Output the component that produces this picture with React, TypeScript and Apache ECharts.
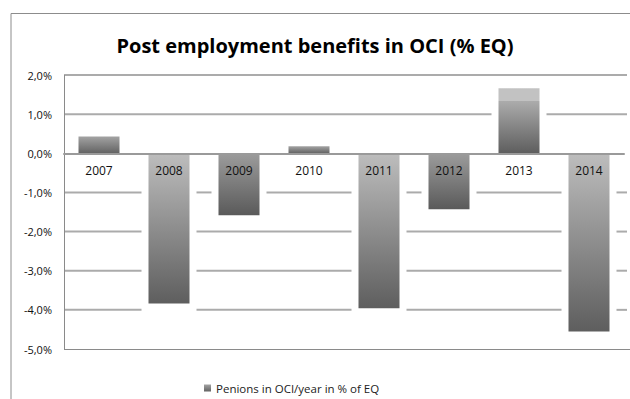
import React, { useEffect, useRef } from "react";
import * as echarts from "echarts";

const categories = ["2007", "2008", "2009", "2010", "2011", "2012", "2013", "2014"];
const values = [0.43, -3.84, -1.58, 0.18, -3.96, -1.43, 1.66, -4.55];
const gridTicks = [2, 1, -1, -2, -3, -4];
const seriesName = "Penions in OCI/year in % of EQ";
const titleText = "Post employment benefits in OCI (% EQ)";

const grad = (stops: [number, string][]) =>
  new echarts.graphic.LinearGradient(
    0,
    0,
    0,
    1,
    stops.map(([offset, color]) => ({ offset, color }))
  );

const BAR_W = 41;
const GAP = 7;

export default function App() {
  const ref = useRef<HTMLDivElement>(null);
  useEffect(() => {
    const chart = echarts.init(ref.current!, null, { renderer: "svg" });
    const barColors = values.map((v) => {
      const mag = Math.abs(v);
      if (mag > 3) return grad([[0, "#bdbdbd"], [1, "#5e5e5e"]]);
      if (mag > 1.5 && v > 0)
        return grad([[0, "#c2c2c2"], [0.19, "#c2c2c2"], [0.2, "#ababab"], [1, "#5e5e5e"]]);
      if (mag > 1) return grad([[0, "#9c9c9c"], [1, "#5a5a5a"]]);
      return grad([[0, "#a3a3a3"], [1, "#636363"]]);
    });
    const frame = [
      {
        type: "polyline",
        shape: { points: [[11, 399], [11, 13.5], [630, 13.5]] },
        style: { stroke: "#8c8c8c", lineWidth: 1, fill: "none" },
        silent: true,
        z: 0,
      },
    ];
    chart.setOption({
      animation: false,
      title: {
        text: titleText,
        left: "center",
        top: 30,
        textStyle: { fontFamily: "Open Sans", fontWeight: "bold", fontSize: 20, color: "#000" },
      },
      legend: {
        data: [{ name: seriesName, icon: "rect" }],
        left: 199,
        top: 377,
        itemWidth: 7,
        itemHeight: 7,
        itemGap: 5,
        textStyle: { fontFamily: "Open Sans", fontSize: 11.5, color: "#222" },
      },
      grid: { left: 64, right: 6, top: 75, bottom: 50 },
      xAxis: [
        {
          type: "category",
          data: categories,
          z: 5,
          axisLine: { onZero: true, lineStyle: { color: "#9a9a9a", width: 2 } },
          axisTick: { show: false },
          axisLabel: { show: false },
          splitLine: { show: false },
        },
        {
          type: "category",
          data: categories,
          position: "bottom",
          offset: -196,
          z: 6,
          axisLine: { show: false, onZero: false },
          axisTick: { show: false },
          axisLabel: { margin: 11, fontFamily: "Open Sans", fontSize: 12, color: "#111" },
          splitLine: { show: false },
        },
      ],
      yAxis: {
        type: "value",
        min: -5,
        max: 2,
        interval: 1,
        axisLabel: {
          margin: 12,
          fontFamily: "Open Sans",
          fontSize: 11,
          color: "#111",
          formatter: (v: number) => v.toFixed(1).replace(".", ",") + "%",
        },
        splitLine: { show: false },
      },
      graphic: frame,
      series: [
        {
          name: seriesName,
          type: "bar",
          barWidth: BAR_W,
          data: values.map((v, i) => ({ value: v, itemStyle: { color: barColors[i] } })),
          itemStyle: { color: barColors[0] },
          z: 2,
        },
      ],
    });

    // Gridlines broken around bars, positioned through the chart's own scales
    const px = (v: number) => chart.convertToPixel({ yAxisIndex: 0 }, v) as number;
    const cx = (c: string) => chart.convertToPixel({ xAxisIndex: 0 }, c) as number;
    const y0 = px(0);
    const left = px(0) !== undefined ? (chart.convertToPixel({ xAxisIndex: 0 }, categories[0]) as number) : 0;
    const xStart = 64;
    const xEnd = 627;
    const lines: any[] = [];
    gridTicks.forEach((t) => {
      const yt = px(t);
      const blocks: [number, number][] = [];
      values.forEach((v, i) => {
        const yv = px(v);
        const lo = Math.min(y0, yv) - GAP;
        const hi = Math.max(y0, yv) + GAP;
        if (yt >= lo && yt <= hi) {
          const c = cx(categories[i]);
          blocks.push([c - BAR_W / 2 - GAP, c + BAR_W / 2 + GAP]);
        }
      });
      let cur = xStart;
      blocks.forEach(([a, b]) => {
        if (a > cur) lines.push([cur, a]);
        cur = Math.max(cur, b);
      });
      if (cur < xEnd) lines.push([cur, xEnd]);
      lines.forEach((seg) => {
        if (!(seg as any).y) (seg as any).y = yt;
      });
    });
    void left;
    const gridGraphics = lines.map((seg: any) => ({
      type: "line",
      shape: { x1: seg[0], y1: seg.y, x2: seg[1], y2: seg.y },
      style: { stroke: "#ababab", lineWidth: 2 },
      silent: true,
      z: 0,
    }));
    const bottomY = Math.round(px(-5)) + 0.5;
    const topY = px(2);
    const axisGraphics = [
      {
        type: "line",
        shape: { x1: xStart, y1: bottomY, x2: 630, y2: bottomY },
        style: { stroke: "#8a8a8a", lineWidth: 1 },
        silent: true,
        z: 3,
      },
      {
        type: "line",
        shape: { x1: xStart + 0.5, y1: topY, x2: xStart + 0.5, y2: bottomY },
        style: { stroke: "#8a8a8a", lineWidth: 1 },
        silent: true,
        z: 3,
      },
    ];
    chart.setOption({ graphic: [...frame, ...axisGraphics, ...gridGraphics] });
    return () => chart.dispose();
  }, []);
  return (
    <div
      ref={ref}
      style={{ position: "fixed", left: 0, top: 0, width: 630, height: 399, background: "#fff" }}
    />
  );
}
